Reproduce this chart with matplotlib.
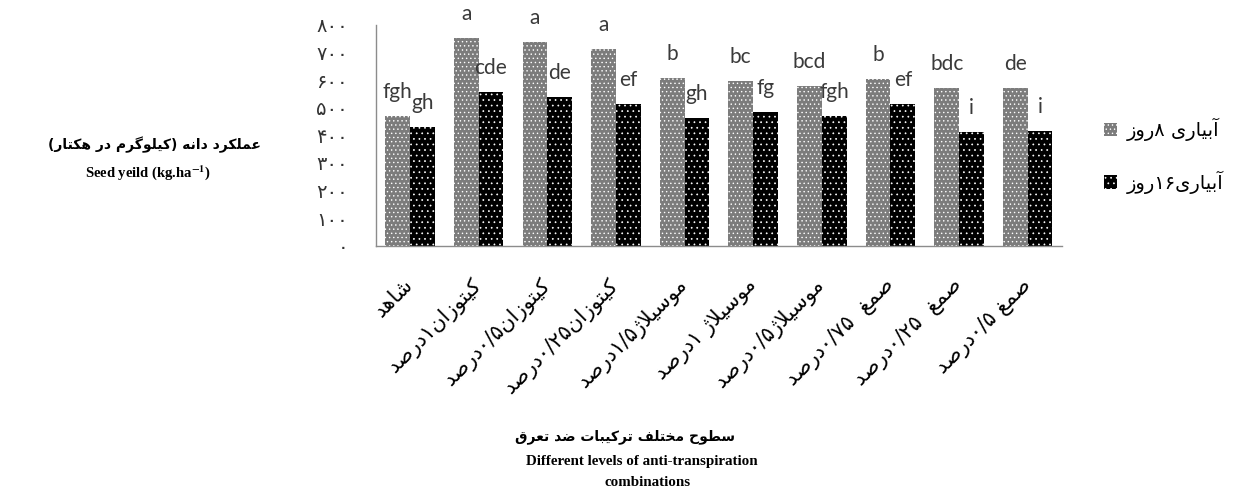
import re
import matplotlib
matplotlib.use("Agg")
import matplotlib.pyplot as plt
import numpy as np

# data
categories = ["شاهد", "کیتوزان۱درصد", "کیتوزان۰/۵درصد", "کیتوزان۰/۲۵درصد",
              "موسیلاژ۱/۵درصد", "موسیلاژ ۱درصد", "موسیلاژ۰/۵درصد",
              "صمغ  ۰/۷۵درصد", "صمغ  ۰/۲۵درصد", "صمغ ۰/۵درصد"]
irr8 = [471, 754, 737, 714, 606, 597, 579, 603, 570, 570]
irr16 = [431, 557, 539, 512, 461, 484, 471, 512, 413, 417]
letters8 = ["fgh", "a", "a", "a", "b", "bc", "bcd", "b", "bdc", "de"]
letters16 = ["gh", "cde", "de", "ef", "gh", "fg", "fgh", "ef", "i", "i"]
series_names = ["آبیاری ۸روز", "آبیاری۱۶روز"]
yticks = [0, 100, 200, 300, 400, 500, 600, 700, 800]
ytick_labels = ["۰", "۱۰۰", "۲۰۰", "۳۰۰", "۴۰۰", "۵۰۰", "۶۰۰", "۷۰۰", "۸۰۰"]

ylabel_fa = "عملکرد دانه (کیلوگرم در هکتار)"
ylabel_en = r"Seed yeild (kg.ha$^{\mathbf{-1}}$)"
xlabel_fa = "سطوح مختلف ترکیبات ضد تعرق"
xlabel_en1 = "Different levels of anti-transpiration"
xlabel_en2 = "combinations"

# matplotlib does not join arabic letters, so do it by hand
# (isolated, final, initial, medial)
FORMS = {
    "ا": ("\uFE8D", "\uFE8E", None, None),
    "آ": ("\uFE81", "\uFE82", None, None),
    "ب": ("\uFE8F", "\uFE90", "\uFE91", "\uFE92"),
    "ت": ("\uFE95", "\uFE96", "\uFE97", "\uFE98"),
    "ح": ("\uFEA1", "\uFEA2", "\uFEA3", "\uFEA4"),
    "خ": ("\uFEA5", "\uFEA6", "\uFEA7", "\uFEA8"),
    "د": ("\uFEA9", "\uFEAA", None, None),
    "ر": ("\uFEAD", "\uFEAE", None, None),
    "ز": ("\uFEAF", "\uFEB0", None, None),
    "ژ": ("\uFB8A", "\uFB8B", None, None),
    "س": ("\uFEB1", "\uFEB2", "\uFEB3", "\uFEB4"),
    "ش": ("\uFEB5", "\uFEB6", "\uFEB7", "\uFEB8"),
    "ص": ("\uFEB9", "\uFEBA", "\uFEBB", "\uFEBC"),
    "ض": ("\uFEBD", "\uFEBE", "\uFEBF", "\uFEC0"),
    "ط": ("\uFEC1", "\uFEC2", "\uFEC3", "\uFEC4"),
    "ع": ("\uFEC9", "\uFECA", "\uFECB", "\uFECC"),
    "غ": ("\uFECD", "\uFECE", "\uFECF", "\uFED0"),
    "ف": ("\uFED1", "\uFED2", "\uFED3", "\uFED4"),
    "ق": ("\uFED5", "\uFED6", "\uFED7", "\uFED8"),
    "ک": ("\uFB8E", "\uFB8F", "\uFB90", "\uFB91"),
    "گ": ("\uFB92", "\uFB93", "\uFB94", "\uFB95"),
    "ل": ("\uFEDD", "\uFEDE", "\uFEDF", "\uFEE0"),
    "م": ("\uFEE1", "\uFEE2", "\uFEE3", "\uFEE4"),
    "ن": ("\uFEE5", "\uFEE6", "\uFEE7", "\uFEE8"),
    "ه": ("\uFEE9", "\uFEEA", "\uFEEB", "\uFEEC"),
    "و": ("\uFEED", "\uFEEE", None, None),
    "ی": ("\uFBFC", "\uFBFD", "\uFBFE", "\uFBFF"),
}
LAM_ALEF = {"ا": ("\uFEFB", "\uFEFC"), "آ": ("\uFEF5", "\uFEF6")}
MIRROR = {"(": ")", ")": "("}


def dual(c):
    return c in FORMS and FORMS[c][2] is not None


def fa(text):
    n = len(text)
    out = []
    i = 0
    while i < n:
        c = text[i]
        if c not in FORMS:
            out.append(c)
            i += 1
            continue
        prev_join = i > 0 and dual(text[i - 1])
        if c == "ل" and i + 1 < n and text[i + 1] in LAM_ALEF:
            lig = LAM_ALEF[text[i + 1]]
            out.append(lig[1] if prev_join else lig[0])
            i += 2
            continue
        next_join = dual(c) and i + 1 < n and text[i + 1] in FORMS
        iso, fin, ini, med = FORMS[c]
        if prev_join and next_join:
            out.append(med)
        elif prev_join:
            out.append(fin)
        elif next_join:
            out.append(ini)
        else:
            out.append(iso)
        i += 1
    shaped = "".join(out)
    # right to left, numbers stay left to right
    runs = re.split(r"([۰-۹0-9]+(?:[/.][۰-۹0-9]+)*)", shaped)
    vis = []
    for r in reversed(runs):
        if re.fullmatch(r"[۰-۹0-9]+(?:[/.][۰-۹0-9]+)*", r):
            vis.append(r)
        else:
            vis.append("".join(MIRROR.get(ch, ch) for ch in reversed(r)))
    return "".join(vis)


plt.rcParams["hatch.color"] = "white"
plt.rcParams["hatch.linewidth"] = 0.5
plt.rcParams["mathtext.fontset"] = "stix"

W, H = 1239, 492
fig = plt.figure(figsize=(W / 100, H / 100), dpi=100)
ax = fig.add_axes([375.7 / W, 1 - 245.7 / H, (1062 - 375.7) / W, (245.7 - 24.9) / H])

x = np.arange(len(categories))
bw = 0.36
b1 = ax.bar(x - bw / 2, irr8, bw, color="#7c7c7c", hatch="....", label=fa(series_names[0]))
b2 = ax.bar(x + bw / 2, irr16, bw, color="black", hatch="...", label=fa(series_names[1]))

for xi, v, t in zip(x, irr8, letters8):
    ax.annotate(t, (xi - bw / 2, v), xytext=(0, 13), textcoords="offset points",
                ha="center", va="baseline", fontsize=15, family="Lato",
                color="#3a3a3a", annotation_clip=False)
for xi, v, t in zip(x, irr16, letters16):
    ax.annotate(t, (xi + bw / 2, v), xytext=(0, 13), textcoords="offset points",
                ha="center", va="baseline", fontsize=15, family="Lato",
                color="#3a3a3a", annotation_clip=False)

ax.set_xlim(-0.5, len(categories) - 0.5)
ax.set_ylim(0, 800)
ax.set_yticks(yticks)
ax.set_yticklabels(ytick_labels, family="DejaVu Sans", fontsize=14, color="#333333")
ax.set_xticks(x)
ax.set_xticklabels([fa(c) for c in categories], rotation=45, ha="right", va="center",
                   rotation_mode="anchor", family="DejaVu Sans", fontsize=15)
ax.tick_params(axis="y", length=0, pad=20)
ax.tick_params(axis="x", length=0, pad=26)
for s in ["top", "right"]:
    ax.spines[s].set_visible(False)
for s in ["left", "bottom"]:
    ax.spines[s].set_color("#8c8c8c")
    ax.spines[s].set_linewidth(1.0)

ax.legend(loc="center left", bbox_to_anchor=(1086 / W, 1 - 156 / H),
          bbox_transform=fig.transFigure, frameon=False,
          handlelength=0.7, handleheight=0.7, handletextpad=0.5, labelspacing=1.5,
          prop={"family": "DejaVu Sans", "size": 14})

fig.text(155 / W, 1 - 145 / H, fa(ylabel_fa), ha="center", va="center",
         family="DejaVu Sans", fontweight="bold", fontsize=10)
fig.text(148 / W, 1 - 173 / H, ylabel_en, ha="center", va="center",
         family="Liberation Serif", fontweight="bold", fontsize=10.5)
fig.text(625 / W, 1 - 437 / H, fa(xlabel_fa), ha="center", va="center",
         family="DejaVu Sans", fontweight="bold", fontsize=10)
fig.text(642 / W, 1 - 462 / H, xlabel_en1, ha="center", va="center",
         family="Liberation Serif", fontweight="bold", fontsize=10.8)
fig.text(648 / W, 1 - 483 / H, xlabel_en2, ha="center", va="center",
         family="Liberation Serif", fontweight="bold", fontsize=10.8)

fig.savefig("out.png", dpi=100)
